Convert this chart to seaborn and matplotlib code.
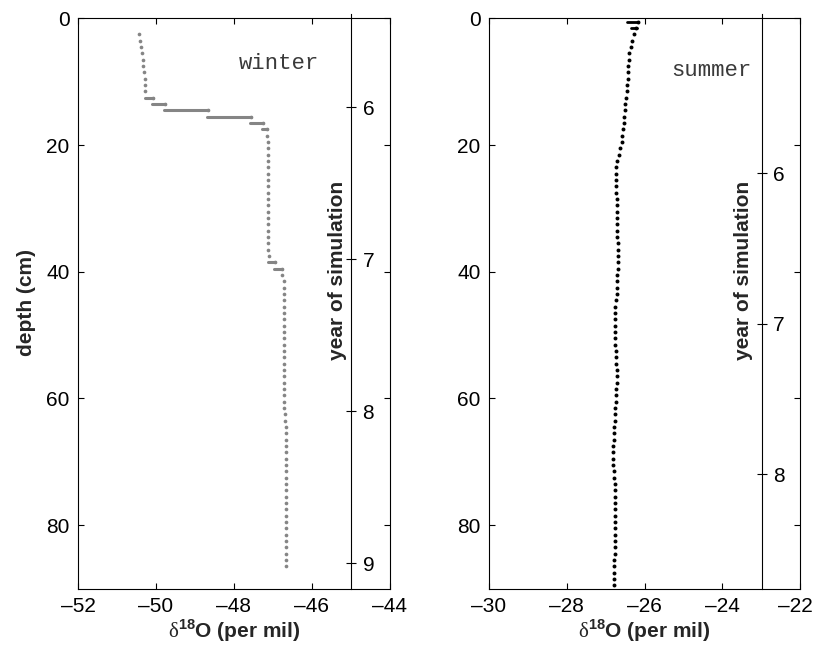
import numpy as np
import pandas as pd
import matplotlib
matplotlib.use('Agg')
import matplotlib.pyplot as plt
import matplotlib.transforms as mtransforms
import seaborn as sns

# winter profile (grey dots), depth in cm
winter_depth = [2.5, 3.5, 4.5, 5.5, 6.5, 7.5, 8.5, 9.5, 10.5, 11.5,
                12.5, 13.5, 14.5, 15.5, 16.5, 17.5, 18.5, 19.5, 20.5, 21.5,
                22.5, 23.5, 24.5, 25.5, 26.5, 27.5, 28.5, 29.5, 30.5, 31.5,
                32.5, 33.5, 34.5, 35.5, 36.5, 37.5, 38.5, 39.5, 40.5, 41.5,
                42.5, 43.5, 44.5, 45.5, 46.5, 47.5, 48.5, 49.5, 50.5, 51.5,
                52.5, 53.5, 54.5, 55.5, 56.5, 57.5, 58.5, 59.5, 60.5, 61.5,
                62.5, 63.5, 64.5, 65.5, 66.5, 67.5, 68.5, 69.5, 70.5, 71.5,
                72.5, 73.5, 74.5, 75.5, 76.5, 77.5, 78.5, 79.5, 80.5, 81.5,
                82.5, 83.5, 84.5, 85.5, 86.5]
winter_d18o = [-50.44, -50.41, -50.39, -50.37, -50.34, -50.32, -50.30, -50.28, -50.29, -50.27,
               -50.07, -49.78, -48.67, -47.56, -47.25, -47.15, -47.15, -47.14, -47.14, -47.14,
               -47.14, -47.13, -47.13, -47.13, -47.13, -47.13, -47.13, -47.13, -47.13, -47.13,
               -47.13, -47.13, -47.13, -47.13, -47.12, -47.11, -46.95, -46.77, -46.78, -46.73,
               -46.73, -46.73, -46.73, -46.73, -46.73, -46.73, -46.73, -46.73, -46.72, -46.72,
               -46.72, -46.72, -46.72, -46.72, -46.72, -46.72, -46.72, -46.72, -46.72, -46.72,
               -46.70, -46.68, -46.66, -46.66, -46.66, -46.66, -46.66, -46.66, -46.66, -46.66,
               -46.66, -46.66, -46.66, -46.66, -46.66, -46.66, -46.66, -46.66, -46.66, -46.66,
               -46.66, -46.66, -46.66, -46.66, -46.66]
# horizontal smears where many points share one depth
winter_streak_depth = [12.5, 13.5, 14.5, 15.5, 16.5, 17.5, 38.5, 39.5]
winter_streak_from = [-50.27, -50.11, -49.80, -48.70, -47.59, -47.29, -47.12, -46.97]
winter_streak_to = [-50.07, -49.78, -48.67, -47.56, -47.25, -47.15, -46.95, -46.77]

# summer profile (black dots)
summer_depth = [0.5, 1.5, 2.5, 3.5, 4.5, 5.5, 6.5, 7.5, 8.5, 9.5,
                10.5, 11.5, 12.5, 13.5, 14.5, 15.5, 16.5, 17.5, 18.5, 19.5,
                20.5, 21.5, 22.5, 23.5, 24.5, 25.5, 26.5, 27.5, 28.5, 29.5,
                30.5, 31.5, 32.5, 33.5, 34.5, 35.5, 36.5, 37.5, 38.5, 39.5,
                40.5, 41.5, 42.5, 43.5, 44.5, 45.5, 46.5, 47.5, 48.5, 49.5,
                50.5, 51.5, 52.5, 53.5, 54.5, 55.5, 56.5, 57.5, 58.5, 59.5,
                60.5, 61.5, 62.5, 63.5, 64.5, 65.5, 66.5, 67.5, 68.5, 69.5,
                70.5, 71.5, 72.5, 73.5, 74.5, 75.5, 76.5, 77.5, 78.5, 79.5,
                80.5, 81.5, 82.5, 83.5, 84.5, 85.5, 86.5, 87.5, 88.5, 89.5]
summer_d18o = [-26.18, -26.22, -26.27, -26.33, -26.36, -26.39, -26.41, -26.42, -26.42, -26.43,
               -26.45, -26.45, -26.47, -26.49, -26.51, -26.52, -26.54, -26.55, -26.57, -26.59,
               -26.62, -26.66, -26.70, -26.73, -26.74, -26.74, -26.73, -26.73, -26.72, -26.72,
               -26.71, -26.71, -26.70, -26.70, -26.70, -26.69, -26.69, -26.69, -26.69, -26.69,
               -26.70, -26.70, -26.71, -26.72, -26.73, -26.75, -26.76, -26.77, -26.77, -26.77,
               -26.76, -26.75, -26.74, -26.73, -26.73, -26.72, -26.72, -26.72, -26.73, -26.73,
               -26.74, -26.75, -26.76, -26.77, -26.78, -26.79, -26.79, -26.80, -26.80, -26.80,
               -26.80, -26.79, -26.78, -26.77, -26.76, -26.76, -26.76, -26.76, -26.76, -26.77,
               -26.77, -26.77, -26.77, -26.77, -26.77, -26.78, -26.78, -26.78, -26.78, -26.78]
summer_streak_depth = [0.5, 1.5]
summer_streak_from = [-26.44, -26.34]
summer_streak_to = [-26.17, -26.20]

winter_years = [6, 7, 8, 9]
summer_years = [6, 7, 8]

winter = pd.DataFrame({'depth': winter_depth, 'd18o': winter_d18o})
summer = pd.DataFrame({'depth': summer_depth, 'd18o': summer_d18o})

sns.set_style('ticks')
plt.rcParams['font.family'] = ['Liberation Sans', 'DejaVu Sans']
plt.rcParams['mathtext.fontset'] = 'custom'
plt.rcParams['mathtext.rm'] = 'Liberation Serif'
plt.rcParams['mathtext.bf'] = 'Liberation Sans:bold'
plt.rcParams['axes.linewidth'] = 0.8

fig = plt.figure(figsize=(8.13, 6.48), dpi=100)
ax1 = fig.add_axes([0.0959, 0.0918, 0.3838, 0.8799])
ax2 = fig.add_axes([0.6014, 0.0918, 0.3827, 0.8799])

xlab = r'$\mathrm{\delta}^{\mathbf{18}}$O (per mil)'


def style_main(ax, xlim, xticks):
    ax.set_xlim(xlim)
    ax.set_ylim(90, 0)
    ax.set_xticks(xticks)
    ax.set_xticklabels([str(t).replace('-', '\u2013') for t in xticks])
    ax.set_yticks([0, 20, 40, 60, 80])
    ax.tick_params(direction='in', top=True, right=True, length=4, width=0.8,
                   labelsize=15, pad=6, colors='black')
    for s in ax.spines.values():
        s.set_visible(True)
        s.set_color('black')
    ax.set_xlabel(xlab, fontsize=15, fontweight='bold', labelpad=1)
    ax.set_ylabel('')


# winter
sns.scatterplot(data=winter, x='d18o', y='depth', ax=ax1, color='#858585',
                s=7, linewidth=0, legend=False)
lc = ax1.hlines(winter_streak_depth, winter_streak_from, winter_streak_to,
                color='#858585', linewidth=2.2)
lc.set_capstyle('round')
style_main(ax1, (-52, -44), [-52, -50, -48, -46, -44])
ax1.set_ylabel('depth (cm)', fontsize=15, fontweight='bold')
ax1.yaxis.set_label_coords(36 / 813, 1 - 303 / 648, transform=fig.transFigure)
ax1.text(-46.85, 7.2, 'winter', family='Liberation Mono', fontsize=16,
         color='#3a3a3a', ha='center', va='center')

# summer
sns.scatterplot(data=summer, x='d18o', y='depth', ax=ax2, color='black',
                s=8, linewidth=0, legend=False)
lc = ax2.hlines(summer_streak_depth, summer_streak_from, summer_streak_to,
                color='black', linewidth=2.0)
lc.set_capstyle('round')
style_main(ax2, (-30, -22), [-30, -28, -26, -24, -22])
ax2.text(-24.27, 8.2, 'summer', family='Liberation Mono', fontsize=16,
         color='#3a3a3a', ha='center', va='center')

# keep the last tick label inside the canvas
last = ax2.get_xticklabels()[-1]
last.set_transform(last.get_transform() +
                   mtransforms.ScaledTranslation(-5 / 100, 0, fig.dpi_scale_trans))


def year_axis(xpos, ylim, ticks, label_x):
    ya = fig.add_axes([xpos, 0.0918, 0.0001, 0.8866])
    ya.patch.set_visible(False)
    for k in ['top', 'bottom', 'left']:
        ya.spines[k].set_visible(False)
    ya.spines['right'].set_color('black')
    ya.xaxis.set_visible(False)
    ya.yaxis.tick_right()
    ya.set_ylim(ylim)
    ya.set_yticks(ticks)
    ya.tick_params(axis='y', direction='inout', length=6.5, width=0.8,
                   labelsize=15, pad=5, colors='black')
    ya.yaxis.set_label_position('left')
    ya.set_ylabel('year of simulation', fontsize=15, fontweight='bold')
    ya.yaxis.set_label_coords(label_x, 1 - 270 / 648, transform=fig.transFigure)
    return ya


year_axis(351 / 813, (9.166, 5.386), winter_years, 347 / 813)
year_axis(761.7 / 813, (8.759, 4.942), summer_years, 753 / 813)

plt.savefig('out.png', dpi=100)
